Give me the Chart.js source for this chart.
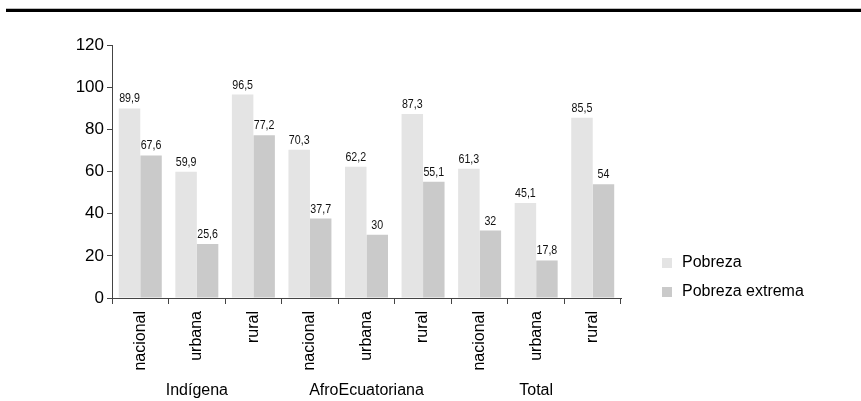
<!DOCTYPE html>
<html>
<head>
<meta charset="utf-8">
<script src="https://cdn.jsdelivr.net/npm/chart.js@4/dist/chart.umd.min.js"></script>
<style>
html,body{margin:0;padding:0;background:#fff;}
#wrap{position:relative;width:861px;height:401px;}
canvas{display:block;}
</style>
</head>
<body>
<div id="wrap"><canvas id="c" width="861" height="401"></canvas></div>
<script>
const categories = ['nacional','urbana','rural','nacional','urbana','rural','nacional','urbana','rural'];
const groups = ['Indígena','AfroEcuatoriana','Total'];
const groupSize = 3;
const seriesNames = ['Pobreza','Pobreza extrema'];
const pobreza = [89.9,59.9,96.5,70.3,62.2,87.3,61.3,45.1,85.5];
const pobrezaExtrema = [67.6,25.6,77.2,37.7,30,55.1,32,17.8,54];
const yMin = 0, yMax = 120, yStep = 20;

const colors = ['#e4e4e4','#cacaca'];
const FONT = '"Liberation Sans", Arial, sans-serif';

const fmt = v => String(v).replace('.', ',');

const decorPlugin = {
  id: 'decor',
  beforeDraw(chart) {
    const ctx = chart.ctx;
    ctx.save();
    ctx.fillStyle = '#bdbdbd';
    ctx.fillRect(6, 8, 855, 1);
    ctx.fillStyle = '#000';
    ctx.fillRect(6, 9, 855, 3);
    ctx.restore();
  },
  afterDatasetsDraw(chart) {
    const ctx = chart.ctx;
    ctx.save();
    // value labels (condensed)
    ctx.font = '13px ' + FONT;
    ctx.fillStyle = '#111';
    ctx.textAlign = 'center';
    ctx.textBaseline = 'alphabetic';
    chart.data.datasets.forEach((ds, i) => {
      const meta = chart.getDatasetMeta(i);
      meta.data.forEach((bar, j) => {
        ctx.save();
        ctx.translate(bar.x, bar.y - 6);
        ctx.scale(0.82, 1);
        ctx.fillText(fmt(ds.data[j]), 0, 0);
        ctx.restore();
      });
    });
    // group labels
    const xs = chart.scales.x;
    ctx.font = '16px ' + FONT;
    ctx.fillStyle = '#000';
    ctx.textBaseline = 'middle';
    groups.forEach((g, k) => {
      const a = xs.getPixelForValue(k * groupSize);
      const b = xs.getPixelForValue(k * groupSize + groupSize - 1);
      ctx.fillText(g, (a + b) / 2, 391);
    });
    // legend
    ctx.textAlign = 'left';
    const ly = [263, 292];
    seriesNames.forEach((n, i) => {
      ctx.fillStyle = colors[i];
      ctx.fillRect(662, ly[i] - 5, 10, 10);
      ctx.fillStyle = '#000';
      ctx.fillText(n, 682, ly[i]);
    });
    ctx.restore();
  }
};

new Chart(document.getElementById('c'), {
  type: 'bar',
  data: {
    labels: categories,
    datasets: [
      { label: seriesNames[0], data: pobreza, backgroundColor: colors[0], categoryPercentage: 0.76, barPercentage: 1 },
      { label: seriesNames[1], data: pobrezaExtrema, backgroundColor: colors[1], categoryPercentage: 0.76, barPercentage: 1 }
    ]
  },
  options: {
    responsive: false,
    animation: false,
    devicePixelRatio: 1,
    layout: { padding: { left: 0, right: 240, top: 45, bottom: 0 } },
    plugins: { legend: { display: false }, tooltip: { enabled: false } },
    scales: {
      x: {
        offset: true,
        grid: { display: true, offset: true, drawOnChartArea: false, drawTicks: true, tickLength: 6, color: '#444', lineWidth: 1 },
        border: { display: true, color: '#444', width: 1 },
        ticks: { color: '#000', font: { family: FONT, size: 16 }, minRotation: 90, maxRotation: 90, padding: 7, autoSkip: false },
        afterFit(s) { s.height = 103; }
      },
      y: {
        min: yMin, max: yMax,
        grid: { display: true, drawOnChartArea: false, drawTicks: true, tickLength: 5, color: '#444', lineWidth: 1 },
        border: { display: true, color: '#444', width: 1 },
        ticks: { stepSize: yStep, color: '#000', font: { family: FONT, size: 17 }, padding: 3 },
        afterFit(s) { s.width = 112; }
      }
    }
  },
  plugins: [decorPlugin]
});
</script>
</body>
</html>
